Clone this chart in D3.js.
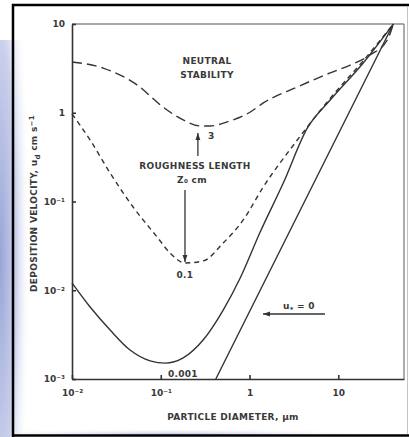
<!DOCTYPE html>
<html>
<head>
<meta charset="utf-8">
<script src="https://cdn.jsdelivr.net/npm/d3@7"></script>
<style>
  body { margin: 0; background: #fff; }
  svg { display: block; }
  .lbl { font-family: "DejaVu Sans", sans-serif; font-size: 9px; font-weight: bold; fill: #3a3a3a; letter-spacing: 0.3px; }
  .axis text { font-family: "DejaVu Sans", sans-serif; font-size: 9px; font-weight: bold; fill: #3a3a3a; }
  .axis path, .axis line { stroke: #333; stroke-width: 1.6; }
</style>
</head>
<body>
<script>
// particle diameter (um) / deposition velocity (cm/s)
const diamZ3 = [0.01, 0.0224, 0.054, 0.106, 0.179, 0.278, 0.36, 0.56, 1.02, 1.43, 3.44, 8.1, 13.6, 23, 35.7, 41.7];
const velZ3 = [3.73, 3.19, 2.06, 1.16, 0.83, 0.71, 0.71, 0.79, 1.02, 1.29, 1.95, 2.81, 3.45, 4.5, 6.6, 10];

const diamZ01 = [0.01, 0.016, 0.0269, 0.0488, 0.091, 0.127, 0.188, 0.30, 0.505, 0.85, 1.43, 3.44, 4.47, 8.1, 19.1, 41.7];
const velZ01 = [0.97, 0.493, 0.209, 0.0867, 0.0398, 0.0263, 0.0203, 0.0214, 0.034, 0.062, 0.146, 0.49, 0.69, 1.45, 3.85, 10];

const diamZ0001 = [0.01, 0.016, 0.0269, 0.0451, 0.0759, 0.112, 0.179, 0.30, 0.505, 0.785, 1.318, 2.40, 4.47, 8.1, 19.1, 41.7];
const velZ0001 = [0.0121, 0.00647, 0.00356, 0.00212, 0.0016, 0.00151, 0.00173, 0.00275, 0.00598, 0.01374, 0.0453, 0.1614, 0.67, 1.39, 3.64, 10];

// u* = 0 (gravitational settling only)
const diamStill = [0.417, 41.7];
const velStill = [0.001, 10];

const xTickValues = [0.01, 0.1, 1, 10];
const xTickLabels = ["10\u207B\u00B2", "10\u207B\u00B9", "1", "10"];
const yTickValues = [0.001, 0.01, 0.1, 1, 10];
const yTickLabels = ["10\u207B\u00B3", "10\u207B\u00B2", "10\u207B\u00B9", "1", "10"];

const width = 409;
const height = 437;
const margin = {top: 24, right: 5, bottom: 58, left: 72};

const svg = d3.select("body").append("svg")
    .attr("width", width)
    .attr("height", height);

const defs = svg.append("defs");

// slide background tint
const gLeft = defs.append("radialGradient").attr("id", "tintLeft")
    .attr("cx", 0).attr("cy", 0.55).attr("r", 1).attr("fx", 0).attr("fy", 0.55);
gLeft.append("stop").attr("offset", 0).attr("stop-color", "#98a3d6").attr("stop-opacity", 1);
gLeft.append("stop").attr("offset", 0.55).attr("stop-color", "#b4bde3").attr("stop-opacity", 0.7);
gLeft.append("stop").attr("offset", 1).attr("stop-color", "#ffffff").attr("stop-opacity", 0);

const gBottom = defs.append("radialGradient").attr("id", "tintBottom")
    .attr("cx", 0.4).attr("cy", 1).attr("r", 0.6).attr("fx", 0.4).attr("fy", 1);
gBottom.append("stop").attr("offset", 0).attr("stop-color", "#a7b0dc").attr("stop-opacity", 0.9);
gBottom.append("stop").attr("offset", 1).attr("stop-color", "#ffffff").attr("stop-opacity", 0);

svg.append("rect").attr("x", 0).attr("y", 40).attr("width", 30).attr("height", 397)
    .attr("fill", "url(#tintLeft)");
svg.append("rect").attr("x", 13).attr("y", 424).attr("width", 396).attr("height", 11)
    .attr("fill", "url(#tintBottom)");

// outer frame
svg.append("line").attr("x1", 12).attr("x2", 409).attr("y1", 5).attr("y2", 5)
    .attr("stroke", "#000").attr("stroke-width", 2.5);
svg.append("line").attr("x1", 13).attr("x2", 13).attr("y1", 4).attr("y2", 437)
    .attr("stroke", "#000").attr("stroke-width", 2.5);
svg.append("line").attr("x1", 12).attr("x2", 409).attr("y1", 435.5).attr("y2", 435.5)
    .attr("stroke", "#000").attr("stroke-width", 2.5);
svg.append("line").attr("x1", 407.5).attr("x2", 407.5).attr("y1", 6).attr("y2", 434)
    .attr("stroke", "#c4c4c4").attr("stroke-width", 1);

const x = d3.scaleLog()
    .domain([0.01, 55])
    .range([margin.left, width - margin.right]);

const y = d3.scaleLog()
    .domain([0.001, 10])
    .range([height - margin.bottom, margin.top]);

// plot box (top / right drawn lighter, as in the scan)
svg.append("line").attr("x1", x(0.01)).attr("x2", x(55)).attr("y1", y(10)).attr("y2", y(10))
    .attr("stroke", "#8a8a8a").attr("stroke-width", 1.4);
svg.append("line").attr("x1", x(55)).attr("x2", x(55)).attr("y1", y(10)).attr("y2", y(0.001))
    .attr("stroke", "#8a8a8a").attr("stroke-width", 1.4);

const xAxis = d3.axisBottom(x)
    .tickValues(xTickValues)
    .tickFormat((d, i) => xTickLabels[i])
    .tickSizeInner(-4)
    .tickSizeOuter(0)
    .tickPadding(11);

const yAxis = d3.axisLeft(y)
    .tickValues(yTickValues)
    .tickFormat((d, i) => yTickLabels[i])
    .tickSizeInner(-4)
    .tickSizeOuter(0)
    .tickPadding(7);

svg.append("g")
    .attr("class", "axis")
    .attr("transform", `translate(0, ${height - margin.bottom})`)
    .call(xAxis);

svg.append("g")
    .attr("class", "axis")
    .attr("transform", `translate(${margin.left}, 0)`)
    .call(yAxis);

// curves
const line = d3.line()
    .x(d => x(d[0]))
    .y(d => y(d[1]))
    .curve(d3.curveMonotoneX);

const series = [
  {diam: diamZ3, vel: velZ3, dash: "10,5"},
  {diam: diamZ01, vel: velZ01, dash: "5,4"},
  {diam: diamZ0001, vel: velZ0001, dash: null},
  {diam: diamStill, vel: velStill, dash: null}
];

svg.selectAll(".curve")
    .data(series)
    .enter()
    .append("path")
    .attr("class", "curve")
    .attr("d", s => line(s.diam.map((d, i) => [d, s.vel[i]])))
    .attr("fill", "none")
    .attr("stroke", "#333")
    .attr("stroke-width", 1.4)
    .attr("stroke-dasharray", s => s.dash);

// arrowheads
defs.append("marker")
    .attr("id", "head")
    .attr("viewBox", "0 0 10 10")
    .attr("refX", 10).attr("refY", 5)
    .attr("markerWidth", 7).attr("markerHeight", 7)
    .attr("markerUnits", "userSpaceOnUse")
    .attr("orient", "auto")
    .append("path")
    .attr("d", "M0,1.5L10,5L0,8.5Z")
    .attr("fill", "#333");

function arrow(d1, v1, d2, v2) {
  svg.append("line")
      .attr("x1", x(d1)).attr("y1", y(v1))
      .attr("x2", x(d2)).attr("y2", y(v2))
      .attr("stroke", "#333")
      .attr("stroke-width", 1.3)
      .attr("marker-end", "url(#head)");
}

function label(txt, d, v, anchor) {
  return svg.append("text")
      .attr("class", "lbl")
      .attr("x", x(d))
      .attr("y", y(v))
      .attr("text-anchor", anchor || "middle")
      .text(txt);
}

label("NEUTRAL", 0.332, 3.54);
label("STABILITY", 0.332, 2.47);
label("ROUGHNESS  LENGTH", 0.243, 0.232);
label("Z\u2080  cm", 0.225, 0.161);
label("3", 0.34, 0.506, "start");
label("0.1", 0.1875, 0.01374);
label("0.001", 0.1205, 0.001054, "start");

arrow(0.262, 0.326, 0.262, 0.591);
arrow(0.1875, 0.135, 0.1875, 0.0208);

const uLab = label("u", 2.38, 0.00615, "start");
uLab.append("tspan").attr("dy", 3).attr("font-size", "7px").text("*");
uLab.append("tspan").attr("dy", -3).text(" = 0");
arrow(7.08, 0.0054, 1.42, 0.0054);

// axis titles
svg.append("text")
    .attr("class", "lbl")
    .attr("x", (margin.left + width - margin.right) / 2 - 5)
    .attr("y", 420)
    .attr("text-anchor", "middle")
    .text("PARTICLE  DIAMETER, \u00B5m");

const yTitle = svg.append("text")
    .attr("class", "lbl")
    .attr("transform", `translate(37, ${(margin.top + height - margin.bottom) / 2 + 2}) rotate(-90)`)
    .attr("text-anchor", "middle");
yTitle.append("tspan").text("DEPOSITION  VELOCITY, u");
yTitle.append("tspan").attr("dy", 2.5).attr("font-size", "7px").text("d");
yTitle.append("tspan").attr("dy", -2.5).text(" cm s");
yTitle.append("tspan").attr("dy", -3).attr("font-size", "7px").text("\u22121");
</script>
</body>
</html>
